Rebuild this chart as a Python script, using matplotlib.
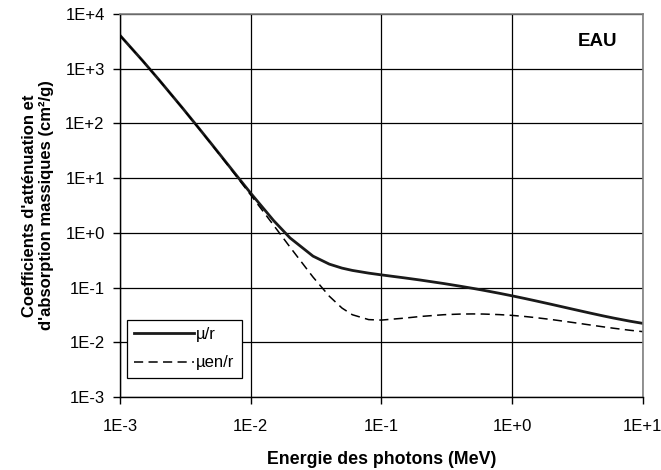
import matplotlib
matplotlib.use("Agg")
import matplotlib.pyplot as plt
from matplotlib.ticker import FixedLocator, NullLocator

plt.rcParams['font.family'] = ['Liberation Sans', 'DejaVu Sans']

energy = [0.001, 0.0015, 0.002, 0.003, 0.004, 0.005, 0.006, 0.008, 0.01, 0.015,
          0.02, 0.03, 0.04, 0.05, 0.06, 0.08, 0.1, 0.15, 0.2, 0.3, 0.4, 0.5,
          0.6, 0.8, 1.0, 1.25, 1.5, 2.0, 3.0, 4.0, 5.0, 6.0, 8.0, 10.0]
mu_rho = [4078, 1376, 617.3, 192.9, 82.78, 42.58, 24.64, 10.37, 5.329, 1.673,
          0.8096, 0.3756, 0.2683, 0.2269, 0.2059, 0.1837, 0.1707, 0.1505, 0.1370,
          0.1186, 0.1061, 0.09687, 0.08956, 0.07865, 0.07072, 0.06323, 0.05754,
          0.04942, 0.03969, 0.03403, 0.03031, 0.02770, 0.02429, 0.02219]
muen_rho = [4065, 1372, 615.2, 191.7, 81.91, 41.88, 24.05, 9.915, 4.944, 1.374,
            0.5503, 0.1557, 0.06947, 0.04223, 0.03190, 0.02597, 0.02546, 0.02764,
            0.02967, 0.03192, 0.03279, 0.03299, 0.03284, 0.03206, 0.03103, 0.02965,
            0.02833, 0.02608, 0.02281, 0.02066, 0.01915, 0.01806, 0.01658, 0.01566]

x_ticks = [1e-3, 1e-2, 1e-1, 1e0, 1e1]
x_labels = ['1E-3', '1E-2', '1E-1', '1E+0', '1E+1']
y_ticks = [1e-3, 1e-2, 1e-1, 1e0, 1e1, 1e2, 1e3, 1e4]
y_labels = ['1E-3', '1E-2', '1E-1', '1E+0', '1E+1', '1E+2', '1E+3', '1E+4']

fig = plt.figure(figsize=(6.61, 4.70), dpi=100)
ax = fig.add_axes([0.1815, 0.1553, 0.9723 - 0.1815, 0.9702 - 0.1553])

ax.plot(energy, mu_rho, color='#1a1a1a', lw=2.0, label='µ/r')
ax.plot(energy, muen_rho, color='black', lw=1.1, dashes=(6, 3.5), label='µen/r')

ax.set_xscale('log')
ax.set_yscale('log')
ax.set_xlim(1e-3, 1e1)
ax.set_ylim(1e-3, 1e4)
ax.xaxis.set_major_locator(FixedLocator(x_ticks))
ax.yaxis.set_major_locator(FixedLocator(y_ticks))
ax.xaxis.set_minor_locator(NullLocator())
ax.yaxis.set_minor_locator(NullLocator())
ax.set_xticklabels(x_labels, fontsize=12)
ax.set_yticklabels(y_labels, fontsize=12)
ax.tick_params(direction='out', length=5, width=1, color='black')
ax.tick_params(axis='x', pad=11)
ax.tick_params(axis='y', pad=6)

ax.grid(True, color='black', lw=0.9)
for s in ['top', 'right']:
    ax.spines[s].set_color('#808080')
    ax.spines[s].set_linewidth(1.2)
for s in ['left', 'bottom']:
    ax.spines[s].set_color('black')
    ax.spines[s].set_linewidth(1.0)

ax.set_xlabel('Energie des photons (MeV)', fontsize=12.8, fontweight='bold', labelpad=12)
ax.set_ylabel("Coefficients d'atténuation et\nd'absorption massiques (cm²/g)",
              fontsize=12, fontweight='bold', labelpad=8)

ax.text(0.951, 0.927, 'EAU', transform=ax.transAxes, fontsize=13.5, fontweight='bold',
        ha='right', va='center')

leg = ax.legend(loc='lower left', bbox_to_anchor=(0.013, 0.05), borderaxespad=0,
                fontsize=12, frameon=True, fancybox=False, edgecolor='black',
                framealpha=1, handlelength=3.6, handletextpad=0.1, borderpad=0.45,
                labelspacing=0.8)
leg.get_frame().set_linewidth(0.9)

fig.savefig('out.png', dpi=100)
